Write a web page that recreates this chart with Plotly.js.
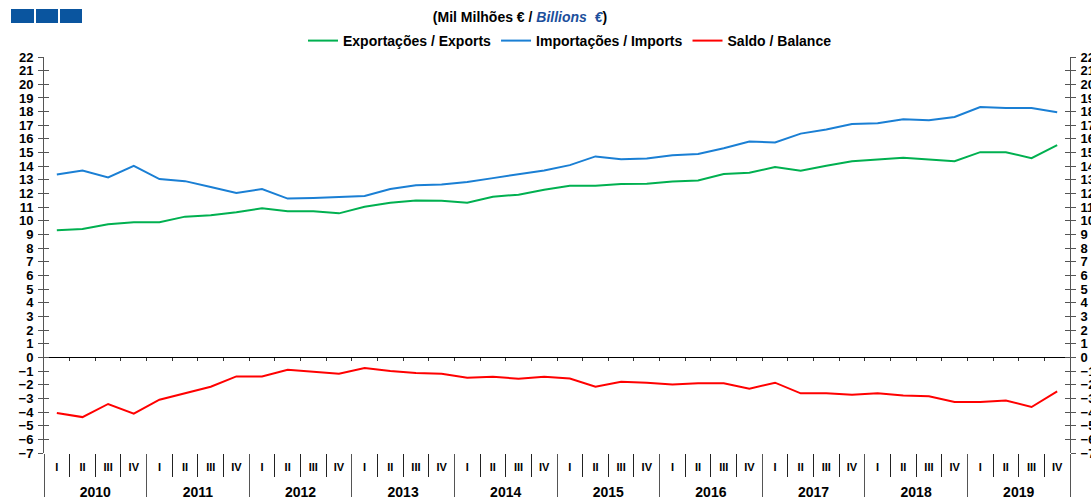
<!DOCTYPE html>
<html>
<head>
<meta charset="utf-8">
<script src="https://cdn.plot.ly/plotly-3.0.1.min.js"></script>
<style>html,body{margin:0;padding:0;background:#fff;overflow:hidden}#chart{width:1091px;height:497px}</style>
</head>
<body>
<div id="chart"></div>
<script>
const years = ['2010','2011','2012','2013','2014','2015','2016','2017','2018','2019'];
const quarters = ['I','II','III','IV'];

const exportsVals = [9.31,9.41,9.75,9.90, 9.90,10.31,10.41,10.63, 10.92,10.70,10.70,10.55,
  11.04,11.33,11.50,11.48, 11.33,11.77,11.92,12.28, 12.57,12.57,12.70,12.72,
  12.89,12.96,13.43,13.52, 13.94,13.67,14.03,14.37, 14.50,14.62,14.50,14.37,
  15.03,15.03,14.59,15.54];
const importsVals = [13.40,13.69,13.18,14.03, 13.06,12.91,12.48,12.04, 12.33,11.63,11.67,11.75,
  11.82,12.33,12.60,12.67, 12.84,13.13,13.43,13.69, 14.08,14.72,14.52,14.57,
  14.81,14.89,15.32,15.81, 15.74,16.39,16.69,17.10, 17.15,17.44,17.37,17.61,
  18.34,18.27,18.27,17.95];
const balanceVals = [-4.07,-4.37,-3.41,-4.12, -3.10,-2.63,-2.15,-1.39, -1.39,-0.90,-1.05,-1.20,
  -0.78,-1.00,-1.15,-1.20, -1.49,-1.41,-1.56,-1.41, -1.54,-2.15,-1.78,-1.85,
  -1.98,-1.90,-1.90,-2.29, -1.85,-2.63,-2.63,-2.73, -2.63,-2.78,-2.85,-3.27,
  -3.27,-3.15,-3.63,-2.49];

const seriesNames = ['Exportações / Exports','Importações / Imports','Saldo / Balance'];
const seriesColors = ['#00b050','#1a7fd4','#ff0000'];

// positions
const idx = [], qText = [];
years.forEach((y,yi)=>quarters.forEach((q,qi)=>{idx.push(yi*4+qi); qText.push(q);}));
const n = idx.length;
const qBounds = []; for (let i=0;i<n-1;i++) qBounds.push(i+0.5);
const yBounds = []; for (let yi=0;yi<=years.length;yi++) yBounds.push(yi*4-0.5);
const yCenters = years.map((y,yi)=>yi*4+1.5);

const W=1091,H=497,L=44,R=21,T=57,B=44;
const pw=W-L-R, ph=H-T-B;
const px=x=>(x-L)/pw, py=y=>(H-B-y)/ph;

const bold = {family:'"Liberation Sans", Arial, sans-serif', weight:'bold', color:'#000'};
const yMin=-7, yMax=22;

const traces = [exportsVals, importsVals, balanceVals].map((v,i)=>({
  type:'scatter', mode:'lines', x:idx, y:v, name:seriesNames[i],
  line:{color:seriesColors[i], width:2}, hoverinfo:'skip'
}));
// transparent carriers so the overlaid helper axes (separators, year labels, right axis) get drawn
[['x2','y2'],['x3','y3'],['x4','y4'],['x5','y']].forEach(a=>traces.push({
  type:'scatter', mode:'lines', x:idx, y:balanceVals, xaxis:a[0], yaxis:a[1],
  showlegend:false, opacity:0, line:{width:0}, hoverinfo:'skip'
}));

const range=[-0.5, n-0.5];
const layout = {
  width:W, height:H, margin:{l:L,r:R,t:T,b:B},
  paper_bgcolor:'#fff', plot_bgcolor:'#fff',
  title:{text:"(Mil Milhões € / <i><span style='color:#1c4f9c'>Billions  €</span></i>)",
    font:Object.assign({},bold,{size:14}), x:520/W, xanchor:'center', xref:'container', y:1-17/H, yanchor:'middle', yref:'container'},
  showlegend:true,
  legend:{orientation:'h', x:px(570), xanchor:'center', y:py(41), yanchor:'middle',
    font:Object.assign({},bold,{size:14}), bgcolor:'rgba(0,0,0,0)'},
  xaxis:{range:range, tickvals:idx, ticktext:qText, ticks:'', showline:false, zeroline:false, showgrid:false,
    tickfont:Object.assign({},bold,{size:11}), ticklabelstandoff:6, fixedrange:true},
  xaxis2:{overlaying:'x', anchor:'free', position:(0-yMin)/(yMax-yMin), range:range, tickvals:qBounds,
    ticks:'outside', ticklen:3, tickcolor:'#333', showticklabels:false, showline:false, zeroline:false, showgrid:false},
  xaxis3:{overlaying:'x', anchor:'y', side:'bottom', range:range, tickvals:qBounds, ticks:'outside', ticklen:23,
    tickcolor:'#222', tickwidth:1, showticklabels:false, showline:false, zeroline:false, showgrid:false},
  xaxis4:{overlaying:'x', anchor:'y', side:'bottom', range:range, tickvals:yBounds, ticks:'outside', ticklen:44,
    tickcolor:'#555', tickwidth:1, showticklabels:false, showline:false, zeroline:false, showgrid:false},
  xaxis5:{overlaying:'x', anchor:'y', side:'bottom', range:range, tickvals:yCenters, ticktext:years, ticks:'',
    showline:false, zeroline:false, showgrid:false, tickfont:Object.assign({},bold,{size:14}), ticklabelstandoff:29},
  yaxis:{range:[yMin,yMax], tick0:0, dtick:1, ticks:'outside', ticklen:5, tickcolor:'#555', showline:true, linecolor:'#555',
    zeroline:true, zerolinecolor:'#000', zerolinewidth:1, showgrid:false, tickfont:Object.assign({},bold,{size:13}), ticklabelstandoff:2},
  yaxis2:{overlaying:'y', side:'right', anchor:'x', range:[yMin,yMax], tick0:0, dtick:1, ticks:'outside', ticklen:5, tickcolor:'#555',
    showline:true, linecolor:'#555', zeroline:false, showgrid:false, tickfont:Object.assign({},bold,{size:13}), ticklabelstandoff:2},
  yaxis3:{overlaying:'y', side:'left', anchor:'x', range:[yMin,yMax], tick0:0, dtick:1, ticks:'inside', ticklen:5, tickcolor:'#555',
    showticklabels:false, showline:false, zeroline:false, showgrid:false},
  yaxis4:{overlaying:'y', side:'right', anchor:'x', range:[yMin,yMax], tick0:0, dtick:1, ticks:'inside', ticklen:5, tickcolor:'#555',
    showticklabels:false, showline:false, zeroline:false, showgrid:false},
  shapes:[[11,34],[36,58],[60,82]].map(b=>({type:'rect', xref:'paper', yref:'paper',
    x0:px(b[0]), x1:px(b[1]), y0:py(23), y1:py(9), fillcolor:'#0a559f', line:{width:0}}))
};

Plotly.newPlot('chart', traces, layout, {displayModeBar:false, staticPlot:true});
</script>
</body>
</html>
